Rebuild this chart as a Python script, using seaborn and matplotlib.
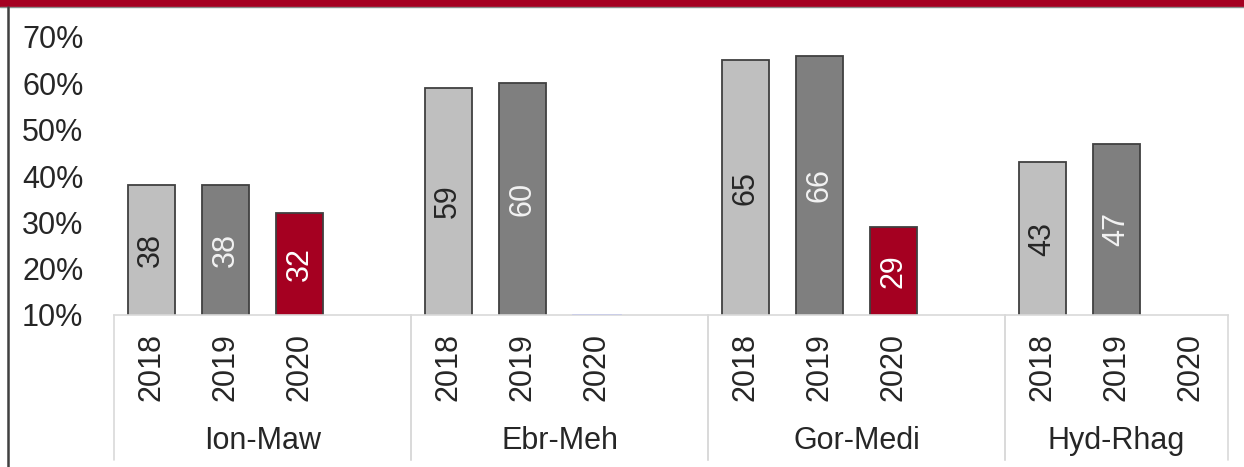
import numpy as np
import pandas as pd
import matplotlib
matplotlib.use("Agg")
import matplotlib.pyplot as plt
import matplotlib.transforms as mtransforms
from matplotlib.lines import Line2D
from matplotlib.patches import Rectangle
import seaborn as sns

# ---- data ----
groups = ["Ion-Maw", "Ebr-Meh", "Gor-Medi", "Hyd-Rhag"]
years = ["2018", "2019", "2020"]
v2018 = [38, 59, 65, 43]
v2019 = [38, 60, 66, 47]
v2020 = [32, 10, 29, np.nan]   # Ebr-Meh 2020 sits on the 10% floor
y_ticks = [10, 20, 30, 40, 50, 60, 70]

colors = {"2018": "#BFBFBF", "2019": "#7F7F7F", "2020": "#A50021"}
label_colors = {"2018": "#262626", "2019": "#F2F2F2", "2020": "#FFFFFF"}

# ---- build slot layout (each group = 3 years + a blank slot, last group no blank) ----
order = []
rows = []
tick_labels = []
group_spans = []
for gi, g in enumerate(groups):
    start = len(order)
    for yr, vals in zip(years, [v2018, v2019, v2020]):
        slot = f"{g} {yr}"
        order.append(slot)
        tick_labels.append(yr)
        val = vals[gi]
        if not np.isnan(val):
            rows.append({"slot": slot, "year": yr, "value": val, "group": g})
    if gi < len(groups) - 1:
        order.append(f"gap{gi}")
        tick_labels.append("")
    group_spans.append((start - 0.5, len(order) - 0.5))
df = pd.DataFrame(rows)

sns.set_theme(style="white")
plt.rcParams["font.family"] = ["Liberation Sans", "DejaVu Sans"]
FS = 22
TXT = "#262626"

fig = plt.figure(figsize=(12.44, 4.67), dpi=100)
ax = fig.add_axes([114 / 1244, 1 - 315 / 467, (1228 - 114) / 1244, (315 - 37) / 467])

sns.barplot(data=df, x="slot", y="value", hue="year", order=order,
            hue_order=years, palette=colors, dodge=False, width=0.63,
            saturation=1, edgecolor="#404040", linewidth=1.3, legend=False, ax=ax)

ymin, ymax = 10, 70
ax.set_ylim(ymin, ymax)
ax.set_xlim(-0.5, len(order) - 0.5)

# bar labels centred on the visible part of each bar
pos = {s: i for i, s in enumerate(order)}
for _, r in df.iterrows():
    if r["value"] > ymin:
        ax.text(pos[r["slot"]], (r["value"] + ymin) / 2, f"{int(r['value'])}",
                rotation=90, ha="center", va="center", fontsize=FS,
                color=label_colors[r["year"]])
    else:
        # bar at the floor: only a faint edge is visible
        for p in ax.patches:
            if abs(p.get_x() + p.get_width() / 2 - pos[r["slot"]]) < 0.01:
                p.set_edgecolor("#C9CCEA")
                p.set_facecolor("none")
                p.set_linewidth(2.0)
                p.set_zorder(5)

# y axis
ax.set_yticks(y_ticks)
ax.set_yticklabels([f"{t}%" for t in y_ticks], fontsize=FS, color=TXT)
ax.tick_params(axis="y", length=0, pad=22)

# x axis: year labels
ax.set_xticks(range(len(order)))
ax.set_xticklabels(tick_labels, rotation=90, fontsize=FS, color=TXT)
ax.tick_params(axis="x", length=0, pad=13)
ax.set_xlabel("")
ax.set_ylabel("")

for s in ["top", "right", "left"]:
    ax.spines[s].set_visible(False)
ax.spines["bottom"].set_color("#D9D9D9")
ax.spines["bottom"].set_linewidth(1.2)
ax.spines["bottom"].set_zorder(1)

# group separators and group labels
trans = mtransforms.blended_transform_factory(ax.transData, ax.transAxes)
bottom_frac = (315 - 460) / (315 - 37)
for (a, b), g in zip(group_spans, groups):
    for xx in (a, b):
        ax.add_line(Line2D([xx, xx], [0, bottom_frac], transform=trans,
                           color="#D9D9D9", lw=1.2, clip_on=False))
    ax.text((a + b) / 2, (315 - 441) / (315 - 37), g, transform=trans,
            ha="center", va="center", fontsize=FS, color=TXT, clip_on=False)

# decorative frame: red band on top, left border
fig.add_artist(Rectangle((0, 1 - 6.5 / 467), 1, 6.5 / 467, transform=fig.transFigure,
                         facecolor="#A50021", edgecolor="none"))
fig.add_artist(Line2D([0, 1], [1 - 7.2 / 467, 1 - 7.2 / 467], transform=fig.transFigure,
                      color="#8C8C8C", lw=1.0))
fig.add_artist(Line2D([8 / 1244, 8 / 1244], [0, 1 - 7 / 467], transform=fig.transFigure,
                      color="#404040", lw=1.8))

fig.savefig("out.png", dpi=100)
